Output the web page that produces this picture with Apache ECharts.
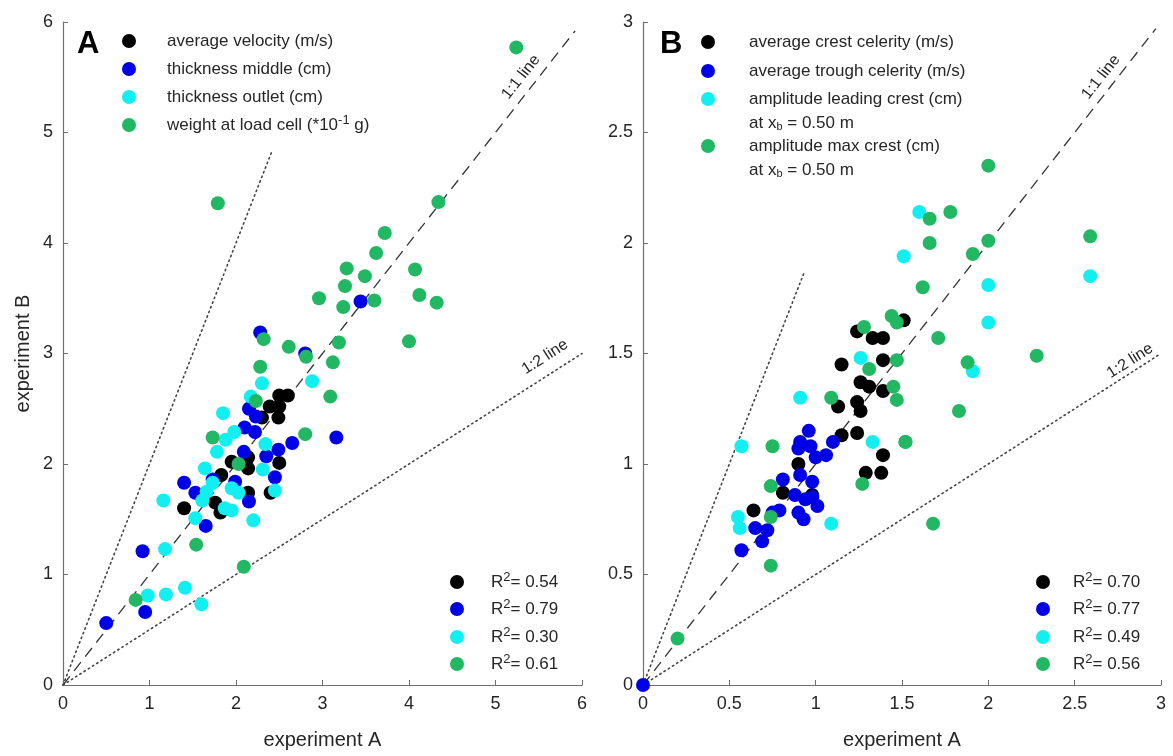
<!DOCTYPE html>
<html>
<head>
<meta charset="utf-8">
<script src="https://cdn.jsdelivr.net/npm/echarts@6/dist/echarts.min.js"></script>
<style>
  html, body { margin: 0; padding: 0; background: #fff; }
  #chart { width: 1173px; height: 756px; }
</style>
</head>
<body>
<div id="chart"></div>
<script>
// ---- Panel A: experiment A vs experiment B (flow quantities) ----
const aVelocity = [
  [2.50,2.62],[2.60,2.62],[2.39,2.52],[2.50,2.52],[2.49,2.42],[2.30,2.42],
  [2.14,2.06],[1.95,2.02],[2.14,1.96],[2.50,2.01],[2.40,1.74],[1.83,1.90],
  [2.14,1.74],[1.40,1.60],[1.76,1.65],[1.82,1.56]
];
const aThickMiddle = [
  [2.28,3.19],[2.80,3.00],[3.44,3.47],[2.15,2.50],[2.23,2.43],[2.10,2.33],
  [2.22,2.29],[2.65,2.19],[3.16,2.24],[2.09,2.11],[2.35,2.07],[2.49,2.13],
  [2.45,1.88],[1.40,1.83],[1.73,1.86],[1.53,1.74],[1.99,1.84],[2.15,1.66],
  [1.65,1.44],[0.92,1.21],[0.95,0.66],[0.50,0.56]
];
const aThickOutlet = [
  [2.88,2.75],[2.30,2.73],[2.17,2.61],[1.85,2.46],[1.98,2.29],[1.88,2.22],
  [1.78,2.11],[2.34,2.18],[2.31,1.95],[2.45,1.76],[1.64,1.96],[1.73,1.83],
  [1.66,1.75],[1.61,1.67],[1.95,1.78],[2.03,1.74],[1.16,1.67],[1.87,1.60],
  [1.95,1.58],[1.53,1.51],[2.20,1.49],[1.18,1.23],[0.98,0.81],[1.19,0.82],
  [1.41,0.88],[1.60,0.73]
];
const aLoadCell = [
  [5.24,5.77],[1.79,4.36],[4.34,4.37],[3.72,4.09],[3.62,3.91],[3.28,3.77],
  [3.49,3.70],[4.07,3.76],[3.26,3.61],[2.96,3.50],[3.24,3.42],[3.60,3.48],
  [4.12,3.53],[4.32,3.46],[4.00,3.11],[3.19,3.10],[2.32,3.13],[2.61,3.06],
  [2.81,2.97],[3.12,2.92],[2.28,2.88],[3.09,2.61],[2.23,2.57],[2.80,2.27],
  [1.73,2.24],[2.03,2.00],[1.54,1.27],[2.09,1.07],[0.84,0.77]
];
const aNames = ['average velocity (m/s)', 'thickness middle (cm)', 'thickness outlet (cm)', 'weight at load cell (*10{sup|-1} g)'];
const aR2 = ['0.54', '0.79', '0.30', '0.61'];

// ---- Panel B: wave quantities ----
const bCrestCel = [
  [1.51,1.65],[1.24,1.60],[1.33,1.57],[1.39,1.57],[1.39,1.47],[1.15,1.45],
  [1.26,1.37],[1.31,1.35],[1.39,1.33],[1.13,1.26],[1.24,1.28],[1.26,1.24],
  [1.15,1.13],[1.24,1.14],[1.39,1.04],[1.29,0.96],[1.38,0.96],[0.90,1.00],
  [0.81,0.87],[0.98,0.86],[0.64,0.79]
];
const bTroughCel = [
  [0.96,1.15],[1.10,1.10],[0.91,1.10],[0.97,1.08],[0.90,1.07],[1.00,1.03],
  [1.06,1.04],[0.91,0.95],[0.98,0.92],[0.81,0.93],[0.88,0.86],[0.94,0.84],
  [0.98,0.85],[1.01,0.81],[0.90,0.78],[0.93,0.75],[0.79,0.79],[0.75,0.78],
  [0.65,0.71],[0.72,0.70],[0.69,0.65],[0.57,0.61],[0,0]
];
const bLeadCrest = [
  [1.26,1.48],[0.91,1.30],[1.33,1.10],[0.57,1.08],[0.55,0.76],[0.56,0.71],
  [1.09,0.73],[1.60,2.14],[1.51,1.94],[2.59,1.85],[2.00,1.81],[2.00,1.64],
  [1.91,1.42]
];
const bMaxCrest = [
  [1.44,1.67],[1.47,1.64],[1.28,1.62],[1.31,1.43],[1.47,1.47],[1.45,1.35],
  [1.47,1.29],[1.09,1.30],[1.52,1.10],[0.75,1.08],[1.27,0.91],[0.74,0.90],
  [0.74,0.76],[0.74,0.54],[0.20,0.21],[2.00,2.35],[1.66,2.11],[1.78,2.14],
  [1.66,2.00],[2.00,2.01],[1.91,1.95],[2.59,2.03],[1.62,1.80],[1.71,1.57],
  [2.28,1.49],[1.88,1.46],[1.83,1.24],[1.52,1.10],[1.68,0.73]
];
const bNames = ['average crest celerity (m/s)', 'average trough celerity (m/s)', 'amplitude leading crest (cm)', 'amplitude max crest (cm)'];
const bR2 = ['0.70', '0.77', '0.49', '0.56'];

// reference lines (1:1 dashed, 2:1 and 1:2 dotted)
const aLine11 = [[0,0],[5.92,5.92]];
const aLine21 = [[0,0],[2.42,4.84]];
const aLine12 = [[0,0],[6,3]];
const bLine11 = [[0,0],[2.97,2.97]];
const bLine21 = [[0,0],[0.93,1.86]];
const bLine12 = [[0,0],[3,1.5]];

const xTicksA = { min: 0, max: 6, interval: 1 };
const xTicksB = { min: 0, max: 3, interval: 0.5 };

const COLORS = ['#000000', '#0000e6', '#12eff0', '#22b863'];
const FONT = '"Liberation Sans", Arial, Helvetica, sans-serif';
const TEXT = '#262626';
const AXIS = '#6e6e6e';

const chart = echarts.init(document.getElementById('chart'), null, { renderer: 'canvas' });

function axisCommon(range) {
  return {
    min: range.min, max: range.max, interval: range.interval,
    axisLine: { show: true, lineStyle: { color: AXIS, width: 1.2 } },
    axisTick: { show: true, inside: true, length: 5, lineStyle: { color: AXIS } },
    axisLabel: { fontSize: 18, color: TEXT, fontFamily: FONT, margin: 10 },
    splitLine: { show: false }
  };
}

function scatter(name, data, idx, color) {
  return {
    name, type: 'scatter', xAxisIndex: idx, yAxisIndex: idx, data,
    symbolSize: 14, clip: false, z: 5,
    itemStyle: { color, opacity: 1 }
  };
}
function refLine(data, idx, type) {
  return {
    type: 'line', xAxisIndex: idx, yAxisIndex: idx, data, symbol: 'none',
    silent: true, z: 2,
    lineStyle: type === 'dash'
      ? { color: '#333', width: 1.3, type: [11, 7] }
      : { color: '#444', width: 1.6, type: [1.4, 3.6], cap: 'round' }
  };
}

const rich = {
  sup: { fontSize: 13, fontFamily: FONT, color: TEXT, padding: [0, 0, 10, 0] },
  sub: { fontSize: 11, fontFamily: FONT, color: TEXT, padding: [7, 0, 0, 0] }
};

function legendText(x, y, text, size) {
  return {
    type: 'text', x, y, z: 10,
    style: { text, fill: TEXT, fontSize: size || 17, fontFamily: FONT,
             textVerticalAlign: 'middle', verticalAlign: 'middle', rich }
  };
}
function dot(x, y, color) {
  return { type: 'circle', shape: { cx: x, cy: y, r: 7 }, style: { fill: color }, z: 10 };
}
function rotLabel(x, y, text, deg) {
  return {
    type: 'text', x, y, rotation: deg * Math.PI / 180, z: 10,
    style: { text, fill: TEXT, fontSize: 16, fontFamily: FONT,
             align: 'center', verticalAlign: 'middle' }
  };
}

const graphics = [];
// panel letters
graphics.push({ type: 'text', x: 77, y: 44, z: 10,
  style: { text: 'A', fontSize: 31, fontWeight: 'bold', fontFamily: FONT, fill: '#000', verticalAlign: 'middle' } });
graphics.push({ type: 'text', x: 660, y: 44, z: 10,
  style: { text: 'B', fontSize: 31, fontWeight: 'bold', fontFamily: FONT, fill: '#000', verticalAlign: 'middle' } });

// panel A legend
const aRows = [41, 69, 97, 125];
aNames.forEach((n, i) => {
  graphics.push(dot(129, aRows[i], COLORS[i]));
  graphics.push(legendText(167, aRows[i], n));
});
// panel B legend
const bRows = [42, 71, 99, 146];
const bSubRows = [null, null, 123, 170];
bNames.forEach((n, i) => {
  graphics.push(dot(708, bRows[i], COLORS[i]));
  graphics.push(legendText(749, bRows[i], n));
  if (bSubRows[i]) graphics.push(legendText(749, bSubRows[i], 'at x{sub|b} = 0.50 m'));
});
// R² boxes
const r2Rows = [582, 609, 637, 664];
aR2.forEach((v, i) => {
  graphics.push(dot(457, r2Rows[i], COLORS[i]));
  graphics.push(legendText(491, r2Rows[i], 'R{sup|2}= ' + v));
});
bR2.forEach((v, i) => {
  graphics.push(dot(1043, r2Rows[i], COLORS[i]));
  graphics.push(legendText(1073, r2Rows[i], 'R{sup|2}= ' + v));
});
// reference line labels
graphics.push(rotLabel(521, 77, '1:1 line', 52));
graphics.push(rotLabel(545, 357, '1:2 line', 32.6));
graphics.push(rotLabel(1101, 77, '1:1 line', 52));
graphics.push(rotLabel(1130, 361, '1:2 line', 32.6));

chart.setOption({
  animation: false,
  backgroundColor: '#ffffff',
  textStyle: { fontFamily: FONT },
  grid: [
    { left: 63, top: 22, width: 519, height: 663 },
    { left: 643, top: 22, width: 518, height: 663 }
  ],
  xAxis: [
    Object.assign(axisCommon(xTicksA), { gridIndex: 0, type: 'value',
      name: 'experiment A', nameLocation: 'middle', nameGap: 45,
      nameTextStyle: { fontSize: 20, color: TEXT, fontFamily: FONT } }),
    Object.assign(axisCommon(xTicksB), { gridIndex: 1, type: 'value',
      name: 'experiment A', nameLocation: 'middle', nameGap: 45,
      nameTextStyle: { fontSize: 20, color: TEXT, fontFamily: FONT } })
  ],
  yAxis: [
    Object.assign(axisCommon(xTicksA), { gridIndex: 0, type: 'value',
      name: 'experiment B', nameLocation: 'middle', nameGap: 30,
      nameTextStyle: { fontSize: 20, color: TEXT, fontFamily: FONT } }),
    Object.assign(axisCommon(xTicksB), { gridIndex: 1, type: 'value' })
  ],
  graphic: graphics,
  series: [
    refLine(aLine11, 0, 'dash'), refLine(aLine21, 0, 'dot'), refLine(aLine12, 0, 'dot'),
    refLine(bLine11, 1, 'dash'), refLine(bLine21, 1, 'dot'), refLine(bLine12, 1, 'dot'),
    scatter(aNames[0], aVelocity, 0, COLORS[0]),
    scatter(aNames[1], aThickMiddle, 0, COLORS[1]),
    scatter(aNames[2], aThickOutlet, 0, COLORS[2]),
    scatter(aNames[3], aLoadCell, 0, COLORS[3]),
    scatter(bNames[0], bCrestCel, 1, COLORS[0]),
    scatter(bNames[1], bTroughCel, 1, COLORS[1]),
    scatter(bNames[2], bLeadCrest, 1, COLORS[2]),
    scatter(bNames[3], bMaxCrest, 1, COLORS[3])
  ]
});
</script>
</body>
</html>
